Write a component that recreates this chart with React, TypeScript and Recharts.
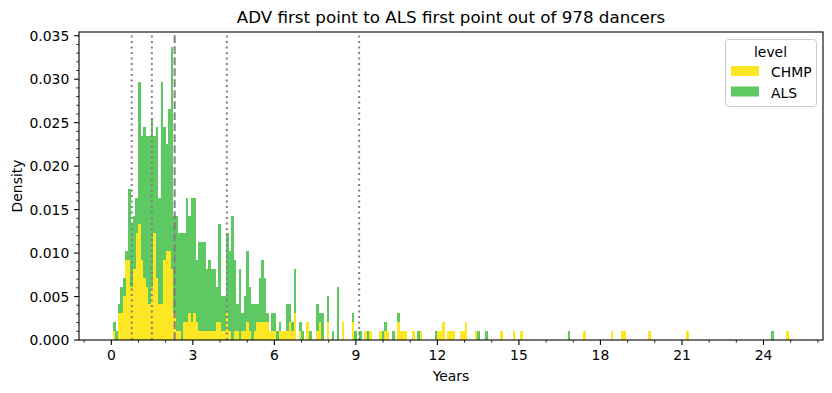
import { BarChart, Bar, XAxis, YAxis, ReferenceLine } from 'recharts';

// histogram bins (years) and counts
const TOTAL_DANCERS = 978;
const BIN_START = 0.056;
const BIN_WIDTH = 0.0925;

const chmpCounts = [
  1, 0, 3, 3, 5, 9, 9, 6, 8, 12, 13, 9, 7, 6, 4, 6, 12, 7, 4, 4,
  9, 10, 10, 8, 3, 1, 1, 0, 2, 2, 3, 2, 3, 2, 1, 1, 1, 1, 1, 1,
  1, 2, 2, 1, 1, 3, 1, 0, 1, 1, 0, 1, 1, 2, 1, 0, 1, 2, 2, 2,
  2, 2, 1, 1, 1, 0, 1, 1, 1, 1, 2, 1, 3, 0, 1, 0, 0, 2, 0, 0,
  0, 1, 2, 0, 0, 2, 0, 0, 0, 0, 0, 2, 0, 0, 0, 2, 0, 0, 0, 0,
  1, 0, 1, 0, 0, 0, 1, 0, 1, 1, 0, 0, 0, 2, 1, 1, 1, 0, 0, 1,
  0, 0, 1, 0, 0, 0, 0, 0, 0, 1, 1, 2, 0, 1, 1, 1, 0, 0, 1, 1,
  2, 0, 0, 0, 1, 0, 0, 0, 0, 0, 0, 0, 0, 0, 1, 0, 0, 0, 0, 1,
  0, 0, 1, 0, 0, 0, 0, 0, 0, 0, 0, 0, 0, 0, 0, 0, 0, 0, 0, 0,
  0, 0, 0, 0, 0, 0, 0, 1, 0, 0, 0, 0, 0, 0, 0, 0, 0, 0, 1, 0,
  0, 0, 1, 1, 0, 0, 0, 0, 0, 0, 0, 0, 0, 1, 0, 0, 0, 0, 0, 0,
  0, 0, 0, 0, 0, 0, 0, 0, 1, 0, 0, 0, 0, 0, 0, 0, 0, 0, 0, 0,
  0, 0, 0, 0, 0, 0, 0, 0, 0, 0, 0, 0, 0, 0, 0, 0, 0, 0, 0, 0,
  0, 0, 0, 0, 0, 0, 0, 0, 1,
];

const alsCounts = [
  1, 1, 1, 3, 2, 1, 8, 7, 6, 4, 16, 14, 17, 17, 19, 19, 11, 17, 12, 25,
  15, 12, 16, 25, 11, 13, 11, 12, 10, 14, 11, 14, 13, 7, 10, 10, 10, 7, 8, 7,
  7, 4, 11, 4, 4, 9, 9, 14, 8, 3, 8, 2, 4, 8, 5, 4, 3, 2, 5, 7,
  5, 1, 0, 2, 2, 1, 1, 0, 0, 3, 2, 1, 5, 0, 1, 1, 0, 0, 1, 0,
  0, 3, 1, 3, 0, 3, 0, 1, 0, 6, 0, 0, 0, 0, 0, 1, 1, 0, 1, 0,
  0, 1, 0, 0, 0, 0, 0, 1, 1, 0, 0, 1, 0, 1, 0, 0, 0, 0, 0, 0,
  0, 1, 0, 0, 0, 0, 0, 0, 1, 0, 0, 0, 0, 0, 0, 0, 0, 0, 0, 0,
  0, 0, 0, 0, 0, 1, 0, 0, 1, 0, 0, 0, 0, 0, 0, 0, 0, 0, 0, 0,
  0, 0, 0, 0, 0, 0, 0, 0, 0, 0, 0, 0, 0, 0, 0, 0, 0, 0, 0, 0,
  0, 1, 0, 0, 0, 0, 0, 0, 0, 0, 0, 0, 0, 0, 0, 0, 0, 0, 0, 0,
  0, 0, 0, 0, 0, 0, 0, 0, 0, 0, 0, 0, 0, 0, 0, 0, 0, 0, 0, 0,
  0, 0, 0, 0, 0, 0, 0, 0, 0, 0, 0, 0, 0, 0, 0, 0, 0, 0, 0, 0,
  0, 0, 0, 0, 0, 0, 0, 0, 0, 0, 0, 0, 0, 0, 0, 0, 0, 0, 0, 0,
  0, 0, 1, 0, 0, 0, 0, 0, 0,
];

// quantile markers (years)
const dottedLines = [0.75, 1.49, 4.25, 9.12];
const medianLine = 2.33;

const xTicks = [-1, 0, 1, 2, 3, 4, 5, 6, 7, 8, 9, 10, 11, 12, 13, 14, 15, 16, 17, 18, 19, 20, 21, 22, 23, 24, 25, 26];
const yTicks = Array.from({ length: 36 }, (_, i) => i / 1000);

const levels = [
  { name: 'CHMP', color: '#fde725' },
  { name: 'ALS', color: '#5ec962' },
];

const W = 832;
const H = 393;
const PLOT_LEFT = 79;
const PLOT_TOP = 32;
const PLOT_W = 744;
const PLOT_H = 308;
const PLOT_BOTTOM = PLOT_TOP + PLOT_H;
const X_MIN = -1.19;
const X_MAX = 26.19;
const Y_MAX = 0.03543;
const FONT = "'DejaVu Sans', sans-serif";
// a bit under the band so recharts keeps the size; the shape closes the gap
const BAR_SIZE = (BIN_WIDTH * PLOT_W) / (X_MAX - X_MIN) - 0.15;

const data = chmpCounts.map((c, i) => ({
  x: BIN_START + (i + 0.5) * BIN_WIDTH,
  CHMP: c / TOTAL_DANCERS,
  ALS: alsCounts[i] / TOTAL_DANCERS,
}));

function HistRect(props: any) {
  const { x, y, width, height, fill } = props;
  if (!height || height <= 0) return <g />;
  return <rect x={x} y={y} width={width + 0.3} height={height} fill={fill} shapeRendering="crispEdges" />;
}

function XTick(props: any) {
  const { x, payload } = props;
  const v = payload.value;
  const major = v >= 0 && v % 3 === 0;
  return (
    <g>
      <line
        x1={x}
        x2={x}
        y1={PLOT_BOTTOM}
        y2={PLOT_BOTTOM + (major ? 4.9 : 2.8)}
        stroke="#000"
        strokeWidth={major ? 1.1 : 0.8}
      />
      {major && (
        <text x={x} y={PLOT_BOTTOM + 19.5} textAnchor="middle" fontSize={13.9} fontFamily={FONT} fill="#000">
          {v}
        </text>
      )}
    </g>
  );
}

function YTick(props: any) {
  const { y, payload } = props;
  const i = Math.round(payload.value * 1000);
  const major = i % 5 === 0;
  return (
    <g>
      <line
        x1={PLOT_LEFT}
        x2={PLOT_LEFT - (major ? 4.9 : 2.8)}
        y1={y}
        y2={y}
        stroke="#000"
        strokeWidth={major ? 1.1 : 0.8}
      />
      {major && (
        <text x={PLOT_LEFT - 9.7} y={y + 5} textAnchor="end" fontSize={13.9} fontFamily={FONT} fill="#000">
          {(i / 1000).toFixed(3)}
        </text>
      )}
    </g>
  );
}

export default function App() {
  return (
    <div style={{ position: 'absolute', left: 0, top: 0, width: W, height: H, background: '#fff' }}>
      <BarChart
        width={W}
        height={H}
        data={data}
        margin={{ top: PLOT_TOP, right: W - PLOT_LEFT - PLOT_W, bottom: H - PLOT_BOTTOM - 30, left: PLOT_LEFT - 60 }}
        barCategoryGap={0}
        barGap={0}
      >
        <XAxis
          dataKey="x"
          type="number"
          domain={[X_MIN, X_MAX]}
          allowDataOverflow
          ticks={xTicks}
          interval={0}
          height={30}
          axisLine={false}
          tickLine={false}
          tickSize={0}
          tickMargin={0}
          tick={(p: any) => <XTick {...p} />}
        />
        <YAxis
          type="number"
          domain={[0, Y_MAX]}
          allowDataOverflow
          ticks={yTicks}
          interval={0}
          width={60}
          axisLine={false}
          tickLine={false}
          tickSize={0}
          tickMargin={0}
          tick={(p: any) => <YTick {...p} />}
        />
        {levels.map((l) => (
          <Bar
            key={l.name}
            dataKey={l.name}
            stackId="level"
            fill={l.color}
            barSize={BAR_SIZE}
            shape={(p: any) => <HistRect {...p} />}
            isAnimationActive={false}
          />
        ))}
        {dottedLines.map((v) => (
          <ReferenceLine key={v} x={v} stroke="#808080" strokeWidth={2} strokeDasharray="2.1 3.4" />
        ))}
        <ReferenceLine x={medianLine} stroke="#808080" strokeWidth={2} strokeDasharray="7.7 3.3" />
      </BarChart>

      <svg
        width={W}
        height={H}
        style={{ position: 'absolute', left: 0, top: 0, pointerEvents: 'none' }}
        fontFamily={FONT}
      >
        <rect x={PLOT_LEFT} y={PLOT_TOP} width={PLOT_W} height={PLOT_H} fill="none" stroke="#000" strokeWidth={1.1} />
        <text x={PLOT_LEFT + PLOT_W / 2} y={23} textAnchor="middle" fontSize={16.7} fill="#000">
          ADV first point to ALS first point out of 978 dancers
        </text>
        <text x={PLOT_LEFT + PLOT_W / 2} y={381} textAnchor="middle" fontSize={13.9} fill="#000">
          Years
        </text>
        <text
          x={22}
          y={PLOT_TOP + PLOT_H / 2}
          textAnchor="middle"
          fontSize={13.9}
          fill="#000"
          transform={`rotate(-90 22 ${PLOT_TOP + PLOT_H / 2})`}
        >
          Density
        </text>

        {/* legend */}
        <rect x={725.5} y={39.5} width={91} height={67} rx={3} fill="#fff" fillOpacity={0.8} stroke="#cccccc" strokeWidth={1} />
        <text x={770.5} y={56.5} textAnchor="middle" fontSize={13.9} fill="#000">
          level
        </text>
        {levels.map((l, i) => (
          <g key={l.name}>
            <rect x={731} y={66 + i * 20.5} width={28} height={10} fill={l.color} />
            <text x={771} y={77.3 + i * 20.5} fontSize={13.9} fill="#000">
              {l.name}
            </text>
          </g>
        ))}
      </svg>
    </div>
  );
}
